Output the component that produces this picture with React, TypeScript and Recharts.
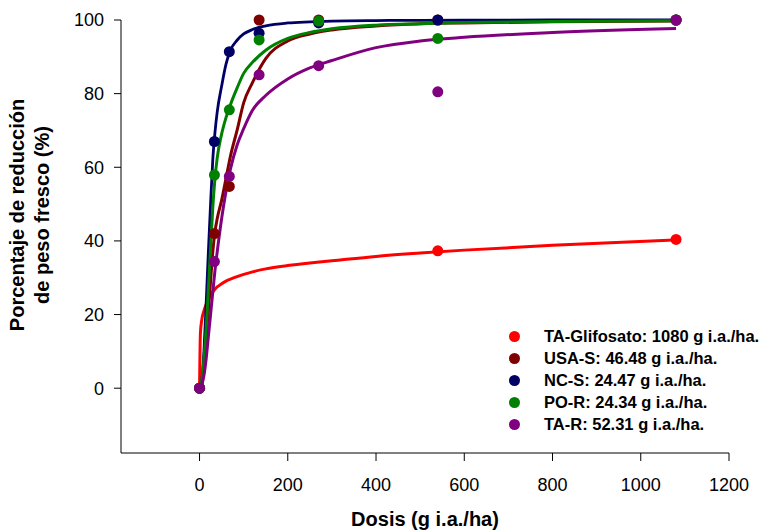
import React from "react";
import {
  ComposedChart,
  Line,
  Scatter,
  XAxis,
  YAxis,
  Label,
} from "recharts";

// observed doses (g i.a./ha)
const doses = [0, 33.75, 67.5, 135, 270, 540, 1080];

// measured reduction (%) per population, null where no dot is visible
const glifoPts = [0, null, null, null, null, 37.3, 40.4];
const usaPts = [0, 42, 54.8, 100, 100, 100, 100];
const ncPts = [0, 67, 91.4, 96.4, 99.2, 100, 100];
const poPts = [0, 57.9, 75.6, 94.6, 99.7, 95, 100];
const taPts = [0, 34.4, 57.5, 85.1, 87.6, 80.5, 100];

// fitted curves
const curveDoses = [0, 2, 5, 10, 15, 20, 25, 30, 35, 40, 50, 60, 70, 85, 100, 120, 150, 200, 250, 300, 400, 500, 600, 800, 1080];
const glifoFit = [0, 15, 18.5, 21, 22.8, 24.2, 25.3, 26.2, 26.9, 27.5, 28.4, 29.1, 29.6, 30.3, 30.9, 31.6, 32.4, 33.3, 34, 34.6, 35.8, 36.7, 37.5, 38.8, 40.3];
const usaFit = [0, 0, 0.5, 6, 13, 21, 29, 37, 42.5, 46, 51, 57, 63, 70, 77.5, 83, 89.5, 94.3, 96.2, 97.3, 98.4, 99, 99.2, 99.5, 99.7];
const ncFit = [0, 0.3, 2, 10, 23, 37, 50, 62, 69.5, 75, 82, 88, 91.8, 94.5, 96.2, 97.4, 98.4, 99.2, 99.5, 99.7, 99.85, 99.9, 99.95, 100, 100];
const poFit = [0, 0.3, 2, 8, 16, 27, 38, 49, 57, 62.5, 69, 73.5, 77, 81.5, 85.5, 88.5, 91.8, 95, 96.6, 97.6, 98.6, 99, 99.3, 99.6, 99.8];
const taFit = [0, 0.3, 1, 3.5, 8, 14, 20, 26, 32, 37, 46, 53.5, 59.5, 66, 70.5, 75.5, 79.5, 84, 87, 89, 92.5, 94.3, 95.3, 96.6, 97.7];

const xTicks = [0, 200, 400, 600, 800, 1000, 1200];
const yTicks = [0, 20, 40, 60, 80, 100];

const series = [
  { key: "glifo", name: "TA-Glifosato: 1080 g i.a./ha.", color: "#ff0000", pts: glifoPts, width: 3 },
  { key: "usa", name: "USA-S: 46.48 g i.a./ha.", color: "#800000", pts: usaPts, width: 3 },
  { key: "nc", name: "NC-S: 24.47 g i.a./ha.", color: "#000066", pts: ncPts, width: 2.8 },
  { key: "po", name: "PO-R: 24.34 g i.a./ha.", color: "#008000", pts: poPts, width: 3 },
  { key: "ta", name: "TA-R: 52.31 g i.a./ha.", color: "#800080", pts: taPts, width: 3 },
];

const curves = curveDoses.map((x, i) => ({
  x,
  glifo: glifoFit[i],
  usa: usaFit[i],
  nc: ncFit[i],
  po: poFit[i],
  ta: taFit[i],
}));

const font = '"Liberation Sans", Arial, sans-serif';

function points(vals: (number | null)[]) {
  return doses
    .map((x, i) => ({ x, y: vals[i] }))
    .filter((p) => p.y !== null);
}

export default function App() {
  return (
    <div style={{ position: "absolute", left: 0, top: 0, width: 767, height: 532, background: "#fff", fontFamily: font }}>
      <ComposedChart
        width={767}
        height={532}
        data={curves}
        margin={{ top: 20, right: 38, bottom: 0, left: 0 }}
      >
        <XAxis
          dataKey="x"
          type="number"
          domain={[-178, 1200]}
          ticks={xTicks}
          interval={0}
          height={79}
          tickSize={8}
          tickMargin={17}
          stroke="#000"
          tick={{ fill: "#000", fontSize: 18, fontFamily: font }}
        >
          <Label
            content={() => (
              <text x={425} y={526} textAnchor="middle" fontSize={20} fontWeight="bold" fontFamily={font} fill="#000">
                Dosis (g i.a./ha)
              </text>
            )}
          />
        </XAxis>
        <YAxis
          type="number"
          domain={[-17.6, 100]}
          ticks={yTicks}
          interval={0}
          width={121}
          tickSize={7}
          tickMargin={10}
          stroke="#000"
          tick={{ fill: "#000", fontSize: 18, fontFamily: font }}
        >
          <Label
            content={() => (
              <text transform="rotate(-90)" textAnchor="middle" fontSize={20} fontWeight="bold" fontFamily={font} fill="#000">
                <tspan x={-215} y={23.5}>Porcentaje de reducción</tspan>
                <tspan x={-215} y={48.5}>de peso fresco (%)</tspan>
              </text>
            )}
          />
        </YAxis>
        {series.map((s) => (
          <Line
            key={s.key}
            dataKey={s.key}
            type="monotone"
            stroke={s.color}
            strokeWidth={s.width}
            dot={false}
            activeDot={false}
            isAnimationActive={false}
          />
        ))}
        {series.map((s) => (
          <Scatter
            key={s.key + "-pts"}
            data={points(s.pts)}
            dataKey="y"
            fill={s.color}
            isAnimationActive={false}
            shape={(p: any) => <circle cx={p.cx} cy={p.cy} r={5.5} fill={s.color} />}
          />
        ))}
      </ComposedChart>
      <div style={{ position: "absolute", left: 509, top: 325, fontSize: 16.5, fontWeight: "bold", color: "#000" }}>
        {series.map((s) => (
          <div key={s.key} style={{ height: 22.2, display: "flex", alignItems: "center", whiteSpace: "nowrap" }}>
            <span style={{ width: 11, height: 11, borderRadius: "50%", background: s.color, marginRight: 24 }} />
            <span>{s.name}</span>
          </div>
        ))}
      </div>
    </div>
  );
}
